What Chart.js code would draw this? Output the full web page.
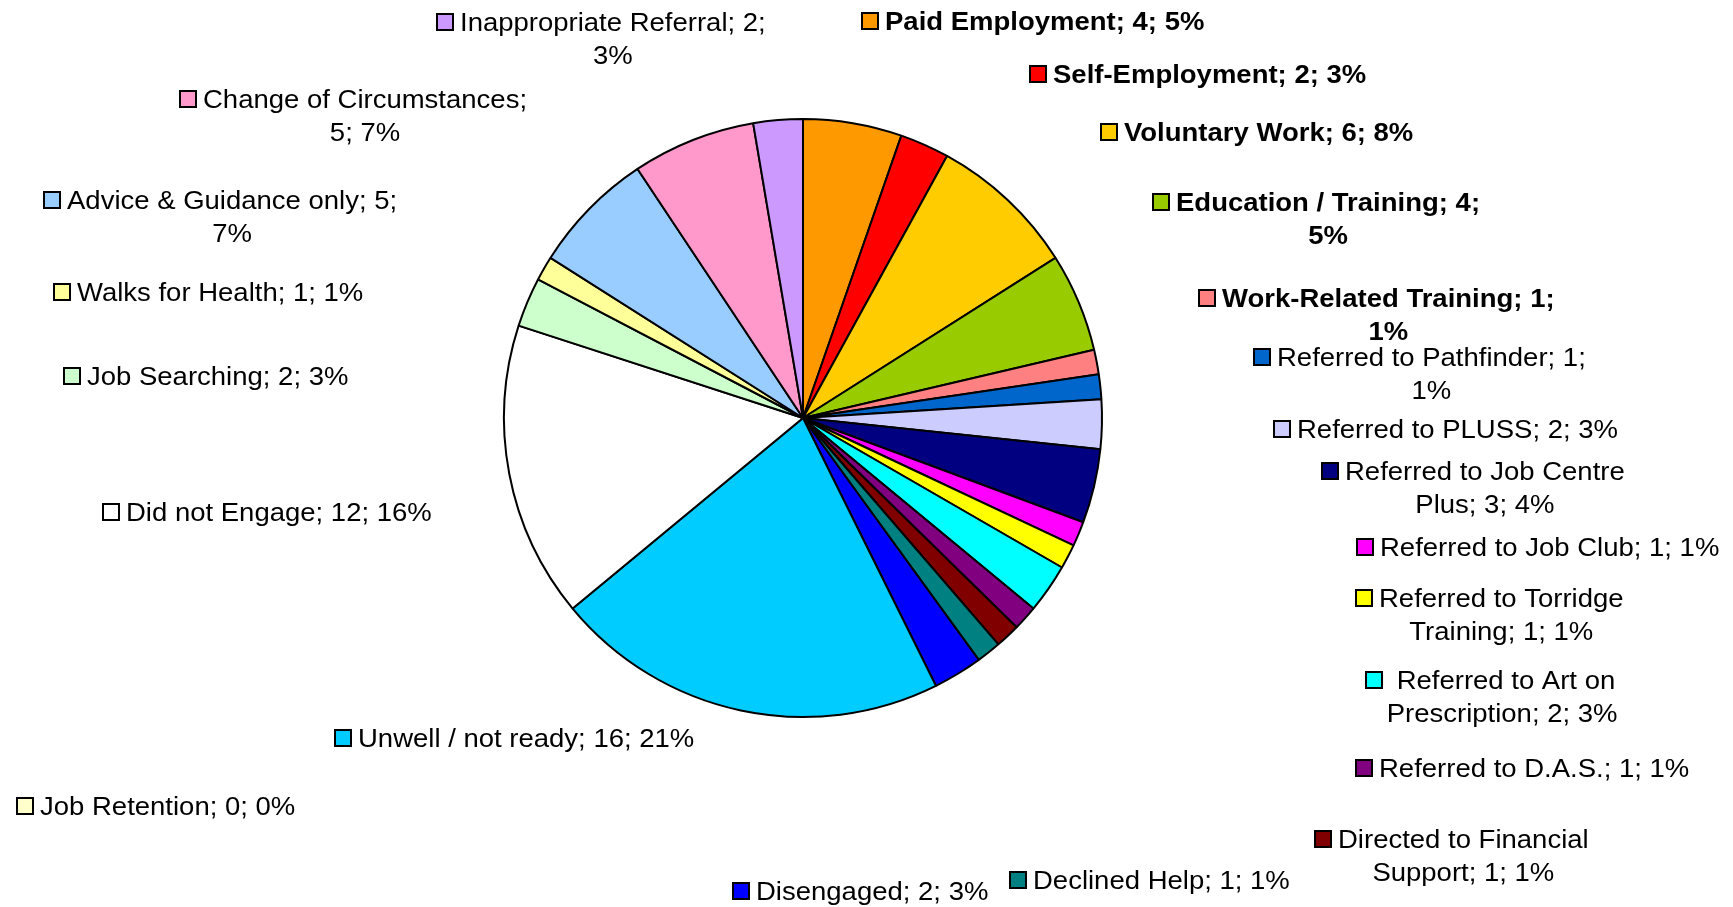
<!DOCTYPE html>
<html>
<head>
    <title>Outcomes pie</title>
    <script src="https://cdn.jsdelivr.net/npm/chart.js@4.4.1/dist/chart.umd.min.js"></script>
</head>
<style>
    body { margin: 0; background: white; }
    canvas { display: block; }
</style>
<body>
    <canvas id="outcomeChart" width="1733" height="907"></canvas>

    <script>
        // Outcome categories, clockwise from 12 o'clock
        const categories = [
            "Paid Employment", "Self-Employment", "Voluntary Work", "Education / Training",
            "Work-Related Training", "Referred to Pathfinder", "Referred to PLUSS",
            "Referred to Job Centre Plus", "Referred to Job Club", "Referred to Torridge Training",
            " Referred to Art on Prescription", "Referred to D.A.S.", "Directed to Financial Support",
            "Declined Help", "Disengaged", "Unwell / not ready", "Job Retention", "Did not Engage",
            "Job Searching", "Walks for Health", "Advice & Guidance only", "Change of Circumstances",
            "Inappropriate Referral"
        ];
        const counts = [4, 2, 6, 4, 1, 1, 2, 3, 1, 1, 2, 1, 1, 1, 2, 16, 0, 12, 2, 1, 5, 5, 2];

        const colors = [
            "#FF9900", "#FF0000", "#FFCC00", "#99CC00", "#FF8080", "#0066CC", "#CCCCFF",
            "#000080", "#FF00FF", "#FFFF00", "#00FFFF", "#800080", "#800000", "#008080",
            "#0000FF", "#00CCFF", "#FFFFCC", "#FFFFFF", "#CCFFCC", "#FFFF99", "#99CCFF",
            "#FF99CC", "#CC99FF"
        ];

        // label placement: key left x, first baseline y, words on first line, bold
        const labelPos = [
            [862, 30, 9, true], [1030, 83, 9, true], [1101, 141, 9, true], [1153, 211, 4, true],
            [1199, 307, 3, true], [1254, 366, 4, false], [1274, 438, 9, false], [1322, 480, 4, false],
            [1357, 556, 9, false], [1356, 607, 3, false], [1366, 689, 5, false], [1356, 777, 9, false],
            [1315, 848, 3, false], [1010, 889, 9, false], [733, 900, 9, false], [335, 747, 9, false],
            [17, 815, 9, false], [103, 521, 9, false], [64, 385, 9, false], [54, 301, 9, false],
            [44, 209, 5, false], [180, 108, 3, false], [437, 31, 3, false]
        ];

        const total = counts.reduce((a, b) => a + b, 0);

        // Draw Excel style data labels with a legend key
        const labelPlugin = {
            id: "excelLabels",
            afterDraw(chart) {
                const ctx = chart.ctx;
                ctx.save();
                for (let i = 0; i < categories.length; i++) {
                    const [kx, by, nWords, bold] = labelPos[i];
                    const pct = Math.round(counts[i] / total * 100);
                    const words = (categories[i] + "; " + counts[i] + "; " + pct + "%").split(" ");
                    const lines = [words.slice(0, nWords).join(" ")];
                    if (words.length > nWords) lines.push(words.slice(nWords).join(" "));

                    const sx = 1.1;
                    ctx.font = (bold ? "bold " : "") + "25px 'Liberation Sans', Arial, sans-serif";
                    ctx.textBaseline = "alphabetic";

                    // key
                    ctx.fillStyle = colors[i];
                    ctx.fillRect(kx, by - 17, 16, 16);
                    ctx.strokeStyle = "#000";
                    ctx.lineWidth = 2;
                    ctx.strokeRect(kx, by - 17, 16, 16);

                    ctx.fillStyle = "#000";
                    const tx = kx + 23;
                    const w0 = ctx.measureText(lines[0]).width * sx;
                    const mid = tx + w0 / 2;
                    lines.forEach((line, j) => {
                        const w = ctx.measureText(line).width * sx;
                        const x = j === 0 ? tx : mid - w / 2;
                        ctx.save();
                        ctx.translate(x, by + j * 33);
                        ctx.scale(sx, 1);
                        ctx.fillText(line, 0, 0);
                        ctx.restore();
                    });
                }
                ctx.restore();
            }
        };

        const chart = new Chart(document.getElementById("outcomeChart"), {
            type: "pie",
            data: {
                labels: categories,
                datasets: [{
                    data: counts,
                    backgroundColor: colors,
                    borderColor: "#000",
                    borderWidth: 2
                }]
            },
            options: {
                responsive: false,
                animation: false,
                layout: { padding: { left: 503, right: 630, top: 118, bottom: 189 } },
                plugins: {
                    legend: { display: false },
                    tooltip: { enabled: false }
                }
            },
            plugins: [labelPlugin]
        });
    </script>
</body>
</html>
